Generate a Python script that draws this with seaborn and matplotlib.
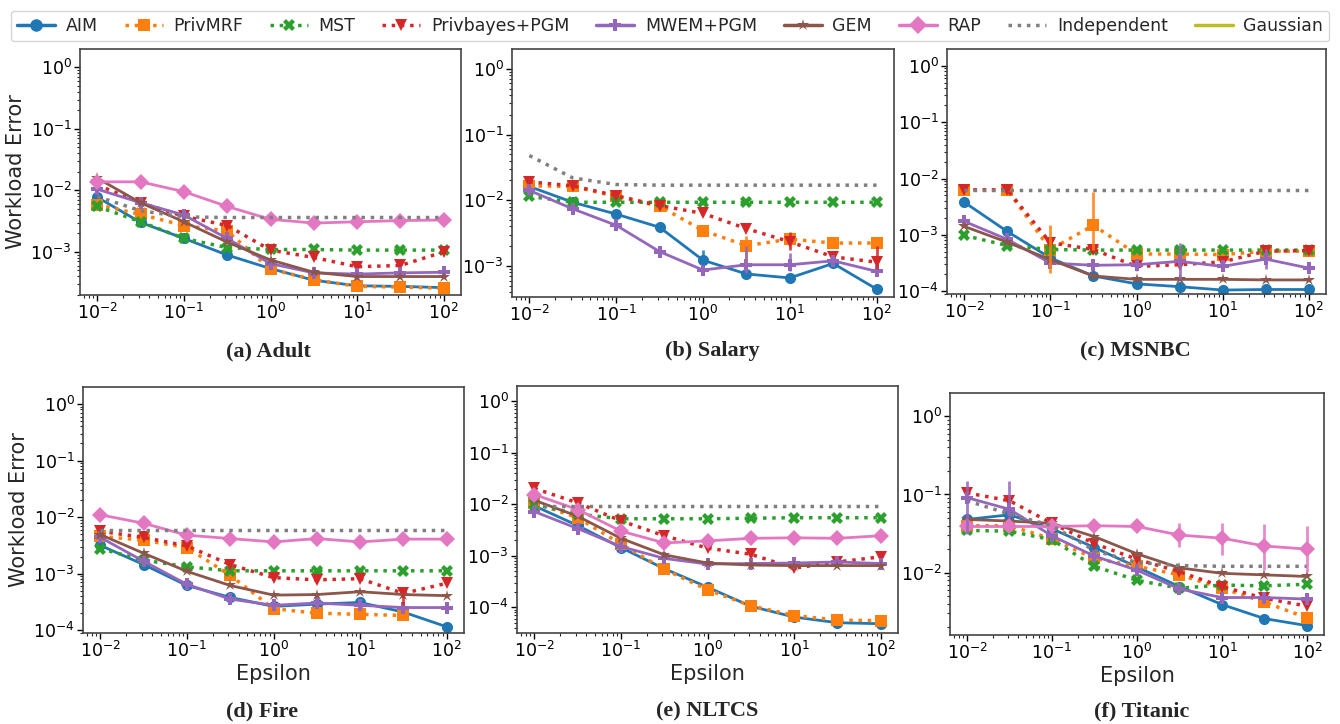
import numpy as np
import pandas as pd
import matplotlib
matplotlib.use("Agg")
import matplotlib.pyplot as plt
import seaborn as sns
from matplotlib.lines import Line2D

# epsilon grid shared by every panel
epsilon = [0.01, 0.0316, 0.1, 0.316, 1.0, 3.16, 10.0, 31.6, 100.0]

methods = ["AIM", "PrivMRF", "MST", "Privbayes+PGM", "MWEM+PGM", "GEM", "RAP",
           "Independent", "Gaussian"]
colors = ["#1f77b4", "#ff7f0e", "#2ca02c", "#d62728", "#9467bd", "#8c564b",
          "#e377c2", "#7f7f7f", "#bcbd22"]
markers = ["o", "s", "X", "v", "P", "*", "D", None, None]
linestyles = ["-", ":", ":", ":", "-", "-", "-", ":", "-"]

# workload error as log10 values
adult = {
    "AIM": [-2.11, -2.52, -2.78, -3.05, -3.27, -3.46, -3.55, -3.56, -3.58],
    "PrivMRF": [-2.23, -2.39, -2.57, -2.66, -3.28, -3.45, -3.56, -3.57, -3.59],
    "MST": [-2.26, -2.51, -2.78, -2.93, -2.96, -2.96, -2.97, -2.97, -2.97],
    "Privbayes+PGM": [-1.91, -2.20, -2.42, -2.57, -2.97, -3.09, -3.24, -3.22, -3.00],
    "MWEM+PGM": [-1.98, -2.20, -2.40, -2.78, -3.19, -3.34, -3.36, -3.34, -3.33],
    "GEM": [-1.80, -2.20, -2.51, -2.84, -3.13, -3.33, -3.40, -3.40, -3.40],
    "RAP": [-1.86, -1.86, -2.02, -2.26, -2.47, -2.53, -2.51, -2.49, -2.48],
    "Independent": [-2.10, -2.33, -2.43, -2.44, -2.44, -2.44, -2.44, -2.44, -2.44],
}
salary = {
    "AIM": [-1.79, -2.03, -2.21, -2.41, -2.91, -3.12, -3.18, -2.96, -3.35],
    "PrivMRF": [-1.78, -1.79, -1.94, -2.09, -2.46, -2.69, -2.59, -2.65, -2.65],
    "MST": [-1.94, -2.03, -2.03, -2.03, -2.03, -2.03, -2.03, -2.03, -2.03],
    "Privbayes+PGM": [-1.72, -1.78, -1.93, -2.08, -2.20, -2.43, -2.63, -2.86, -2.94],
    "MWEM+PGM": [-1.85, -2.13, -2.38, -2.78, -3.06, -2.98, -2.98, -2.92, -3.08],
    "Independent": [-1.32, -1.66, -1.76, -1.77, -1.77, -1.77, -1.77, -1.77, -1.77],
}
msnbc = {
    "AIM": [-2.42, -2.94, -3.41, -3.73, -3.87, -3.92, -3.98, -3.97, -3.97],
    "PrivMRF": [-2.20, -2.20, -3.26, -2.83, -3.34, -3.34, -3.35, -3.29, -3.29],
    "MST": [-3.01, -3.19, -3.26, -3.27, -3.27, -3.27, -3.27, -3.27, -3.27],
    "Privbayes+PGM": [-2.20, -2.20, -3.14, -3.26, -3.56, -3.53, -3.48, -3.29, -3.28],
    "MWEM+PGM": [-2.76, -3.08, -3.50, -3.54, -3.53, -3.47, -3.56, -3.43, -3.59],
    "GEM": [-2.85, -3.13, -3.44, -3.73, -3.79, -3.79, -3.79, -3.80, -3.80],
    "Independent": [-2.21, -2.21, -2.21, -2.21, -2.21, -2.21, -2.21, -2.21, -2.21],
}
fire = {
    "AIM": [-2.50, -2.84, -3.21, -3.42, -3.58, -3.54, -3.51, -3.68, -3.94],
    "PrivMRF": [-2.34, -2.41, -2.54, -3.03, -3.62, -3.70, -3.72, -3.74, np.nan],
    "MST": [-2.56, -2.76, -2.88, -2.95, -2.95, -2.95, -2.95, -2.95, -2.95],
    "Privbayes+PGM": [-2.25, -2.36, -2.51, -2.84, -3.07, -3.11, -3.09, -3.35, -3.17],
    "MWEM+PGM": [-2.36, -2.78, -3.19, -3.45, -3.56, -3.52, -3.56, -3.60, -3.60],
    "GEM": [-2.31, -2.64, -2.96, -3.21, -3.38, -3.37, -3.32, -3.37, -3.39],
    "RAP": [-1.96, -2.11, -2.32, -2.38, -2.44, -2.38, -2.44, -2.39, -2.39],
    "Independent": [-2.22, -2.22, -2.22, -2.22, -2.22, -2.22, -2.22, -2.22, -2.22],
}
nltcs = {
    "AIM": [-2.03, -2.41, -2.84, -3.25, -3.61, -3.98, -4.19, -4.30, -4.32],
    "PrivMRF": [-1.97, -2.26, -2.77, -3.26, -3.66, -3.97, -4.16, -4.25, -4.26],
    "MST": [-2.00, -2.19, -2.28, -2.28, -2.28, -2.27, -2.26, -2.26, -2.26],
    "Privbayes+PGM": [-1.69, -1.97, -2.32, -2.61, -2.85, -2.97, -3.24, -3.12, -3.02],
    "MWEM+PGM": [-2.14, -2.47, -2.82, -3.05, -3.16, -3.15, -3.14, -3.12, -3.15],
    "GEM": [-1.92, -2.23, -2.66, -2.98, -3.14, -3.18, -3.19, -3.19, -3.19],
    "RAP": [-1.81, -2.10, -2.52, -2.75, -2.71, -2.66, -2.65, -2.66, -2.61],
    "Independent": [-2.03, -2.03, -2.03, -2.03, -2.03, -2.03, -2.03, -2.03, -2.03],
}
titanic = {
    "AIM": [-1.32, -1.26, -1.44, -1.68, -1.93, -2.18, -2.41, -2.59, -2.68],
    "PrivMRF": [-1.40, -1.40, -1.57, -1.82, -1.92, -2.03, -2.20, -2.38, -2.58],
    "MST": [-1.46, -1.47, -1.58, -1.92, -2.10, -2.20, -2.16, -2.17, -2.15],
    "Privbayes+PGM": [-0.98, -1.08, -1.37, -1.63, -1.83, -1.99, -2.18, -2.33, -2.43],
    "MWEM+PGM": [-1.04, -1.19, -1.53, -1.79, -1.97, -2.21, -2.32, -2.32, -2.34],
    "GEM": [-1.32, -1.34, -1.37, -1.54, -1.76, -1.94, -2.01, -2.03, -2.05],
    "RAP": [-1.41, -1.41, -1.41, -1.40, -1.41, -1.52, -1.56, -1.66, -1.70],
    "Independent": [-1.08, -1.25, -1.40, -1.72, -1.87, -1.91, -1.92, -1.92, -1.92],
}

# visible error bars: (panel, method, epsilon index, low log10, high log10)
error_bars = [
    (1, "AIM", 4, -2.98, -2.75),
    (1, "PrivMRF", 5, -2.95, -2.55),
    (1, "Privbayes+PGM", 6, -2.75, -2.48),
    (1, "MWEM+PGM", 5, -3.10, -2.70),
    (1, "MWEM+PGM", 6, -3.08, -2.80),
    (1, "Privbayes+PGM", 8, -3.05, -2.70),
    (2, "PrivMRF", 2, -3.67, -2.83),
    (2, "PrivMRF", 3, -3.26, -2.24),
    (2, "MWEM+PGM", 5, -3.79, -3.15),
    (2, "MWEM+PGM", 7, -3.60, -3.25),
    (3, "Privbayes+PGM", 7, -3.55, -3.28),
    (5, "MWEM+PGM", 0, -1.50, -0.83),
    (5, "MWEM+PGM", 1, -1.30, -0.83),
    (5, "RAP", 5, -1.67, -1.36),
    (5, "RAP", 6, -1.78, -1.36),
    (5, "RAP", 7, -1.97, -1.38),
    (5, "RAP", 8, -1.99, -1.40),
    (4, "RAP", 8, -2.72, -2.52),
]

panels = [adult, salary, msnbc, fire, nltcs, titanic]
captions = ["(a) Adult", "(b) Salary", "(c) MSNBC", "(d) Fire", "(e) NLTCS", "(f) Titanic"]
ylim_low = [-3.7, -3.47, -4.05, -4.05, -4.5, -2.8]

# axes boxes in pixels: left, right, top, bottom
W, H = 1340, 724
boxes = [(80, 461, 49, 295), (512, 894, 49, 297), (947, 1326, 49, 294),
         (83, 464, 387, 633), (517, 898, 386, 633), (950, 1324, 393, 635)]
caption_pos = [(268, 351), (712, 351), (1135, 351), (262, 711), (707, 711), (1142, 711)]

sns.set_theme(style="ticks")
plt.rcParams["font.family"] = ["DejaVu Sans"]

fig = plt.figure(figsize=(13.4, 7.24), dpi=100)

for i, data in enumerate(panels):
    l, r, t, b = boxes[i]
    ax = fig.add_axes([l / W, 1 - b / H, (r - l) / W, (b - t) / H])
    for m, c, mk, ls in zip(methods, colors, markers, linestyles):
        if m not in data:
            continue
        df = pd.DataFrame({"eps": epsilon, "err": 10 ** np.array(data[m])}).dropna()
        lw = 2.5 if ls == ":" else 2
        sns.lineplot(data=df, x="eps", y="err", ax=ax, color=c, marker=mk,
                     linestyle=ls, linewidth=lw, markersize=8 if mk != "*" else 9,
                     markeredgewidth=0, legend=False)
    for p, m, k, lo, hi in error_bars:
        if p == i:
            ax.vlines(epsilon[k], 10 ** lo, 10 ** hi,
                      color=colors[methods.index(m)], lw=2, alpha=0.85)
    ax.set_xscale("log")
    ax.set_yscale("log")
    ax.set_xlim(10 ** -2.2, 10 ** 2.2)
    ax.set_ylim(10 ** ylim_low[i], 10 ** 0.3)
    ax.tick_params(labelsize=12.5, length=4, width=1, colors="black", pad=2)
    ax.tick_params(which="minor", length=2, width=0.8)
    for s in ax.spines.values():
        s.set_color("#444444")
        s.set_linewidth(1.2)
    ax.set_xlabel("Epsilon" if i >= 3 else "", fontsize=15, labelpad=2)
    ax.set_ylabel("Workload Error" if i % 3 == 0 else "", fontsize=15, labelpad=3)
    cx, cy = caption_pos[i]
    fig.text(cx / W, 1 - cy / H, captions[i], ha="center", va="center",
             fontsize=16, fontweight="bold", family="Liberation Serif")

handles = [Line2D([], [], color=c, marker=mk, linestyle=ls,
                  linewidth=2.5, markersize=9, markeredgewidth=0)
           for c, mk, ls in zip(colors, markers, linestyles)]
fig.legend(handles, methods, loc="upper center", bbox_to_anchor=(0.5, 0.997),
           ncol=9, fontsize=12.5, frameon=True, handlelength=2.2,
           handletextpad=0.6, columnspacing=1.55, borderpad=0.35,
           edgecolor="#cccccc")

fig.savefig("out.png", dpi=100)
